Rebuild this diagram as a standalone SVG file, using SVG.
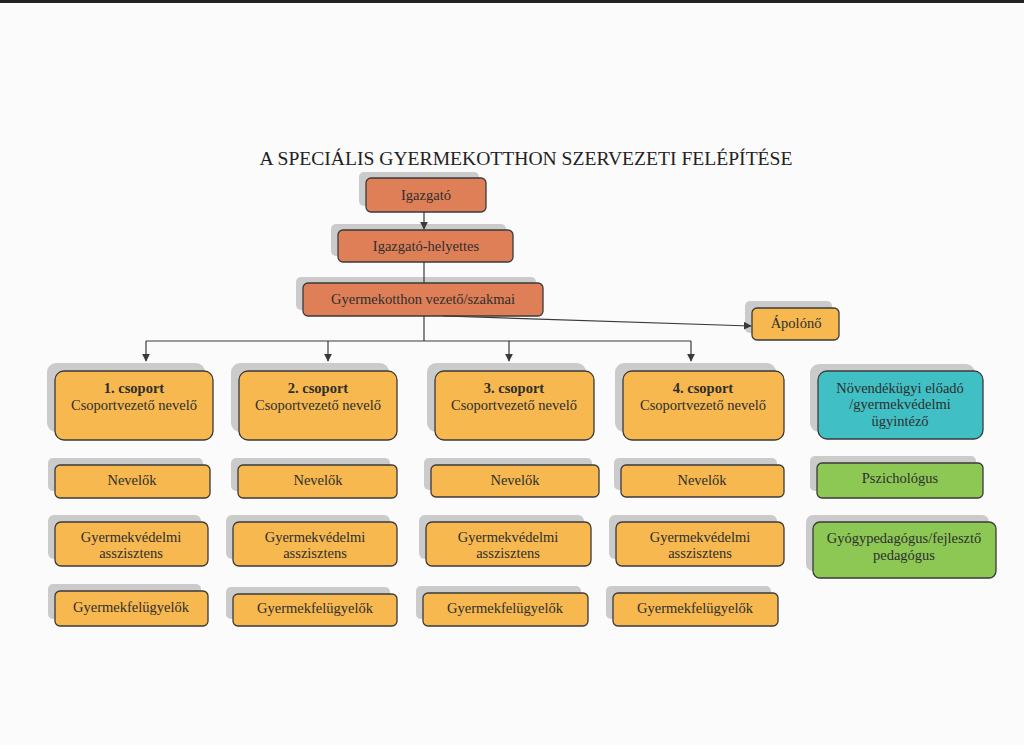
<svg xmlns="http://www.w3.org/2000/svg" width="1024" height="745" viewBox="0 0 1024 745">
<defs>
<style>
.sh{fill:#cbcbcb}
.bx{stroke:#3a3a3a;stroke-width:1.3}
.sal{fill:#df7f58}
.org{fill:#f6b84f}
.tea{fill:#40c0c4}
.grn{fill:#8dc855}
text{font-family:"Liberation Serif","Times New Roman",serif;font-size:14.5px;fill:#2e2e2e;text-anchor:middle}
.b{font-weight:bold}
.title{font-size:19.6px;fill:#222}
.ln{stroke:#3a3a3a;stroke-width:1.2;fill:none}
</style>
<marker id="ar" viewBox="0 0 10 10" refX="9" refY="5" markerWidth="8" markerHeight="8" orient="auto" markerUnits="userSpaceOnUse">
<path d="M0,0 L10,5 L0,10 z" fill="#3a3a3a"/>
</marker>
</defs>
<rect width="1024" height="745" fill="#fbfbfb"/>
<rect width="1024" height="3" fill="#222"/>
<text class="title" x="526" y="165">A SPECIÁLIS GYERMEKOTTHON SZERVEZETI FELÉPÍTÉSE</text>

<g id="igazgato">
<rect class="sh" x="359" y="172" width="120" height="34" rx="5"/>
<rect class="bx sal" x="366" y="178" width="120" height="34" rx="5"/>
<text x="426" y="200">Igazgató</text>
</g>
<g id="helyettes">
<rect class="sh" x="331" y="224" width="175" height="32" rx="5"/>
<rect class="bx sal" x="338" y="230" width="175" height="32" rx="5"/>
<text x="426" y="251">Igazgató-helyettes</text>
</g>
<g id="vezeto">
<rect class="sh" x="296" y="277" width="240" height="33" rx="5"/>
<rect class="bx sal" x="303" y="283" width="240" height="33" rx="5"/>
<text x="423" y="304">Gyermekotthon vezető/szakmai</text>
</g>
<g id="apolono">
<rect class="sh" x="745" y="301" width="87" height="32" rx="5"/>
<rect class="bx org" x="752" y="308" width="87" height="32" rx="5"/>
<text x="796" y="328">Ápolónő</text>
</g>

<g id="csoport1">
<rect class="sh" x="47" y="363" width="158" height="69" rx="9"/>
<rect class="bx org" x="55" y="371" width="158" height="69" rx="9"/>
<text x="134" y="393" class="b">1. csoport</text>
<text x="134" y="410">Csoportvezető nevelő</text>
</g>
<g id="csoport2">
<rect class="sh" x="231" y="363" width="158" height="69" rx="9"/>
<rect class="bx org" x="239" y="371" width="158" height="69" rx="9"/>
<text x="318" y="393" class="b">2. csoport</text>
<text x="318" y="410">Csoportvezető nevelő</text>
</g>
<g id="csoport3">
<rect class="sh" x="427" y="363" width="159" height="69" rx="9"/>
<rect class="bx org" x="435" y="371" width="159" height="69" rx="9"/>
<text x="514" y="393" class="b">3. csoport</text>
<text x="514" y="410">Csoportvezető nevelő</text>
</g>
<g id="csoport4">
<rect class="sh" x="615" y="363" width="161" height="69" rx="9"/>
<rect class="bx org" x="623" y="371" width="161" height="69" rx="9"/>
<text x="703" y="393" class="b">4. csoport</text>
<text x="703" y="410">Csoportvezető nevelő</text>
</g>
<g id="novendekugyi">
<rect class="sh" x="810" y="364" width="165" height="68" rx="9"/>
<rect class="bx tea" x="818" y="371" width="165" height="68" rx="9"/>
<text x="900" y="393">Növendékügyi előadó</text>
<text x="900" y="409">/gyermekvédelmi</text>
<text x="900" y="426">ügyintéző</text>
</g>

<g id="nevelok1">
<rect class="sh" x="48" y="458" width="155" height="33" rx="5"/>
<rect class="bx org" x="55" y="465" width="155" height="33" rx="5"/>
<text x="132" y="485">Nevelők</text>
</g>
<g id="nevelok2">
<rect class="sh" x="231" y="458" width="159" height="33" rx="5"/>
<rect class="bx org" x="238" y="465" width="159" height="33" rx="5"/>
<text x="318" y="485">Nevelők</text>
</g>
<g id="nevelok3">
<rect class="sh" x="424" y="458" width="168" height="32" rx="5"/>
<rect class="bx org" x="431" y="465" width="168" height="32" rx="5"/>
<text x="515" y="485">Nevelők</text>
</g>
<g id="nevelok4">
<rect class="sh" x="614" y="458" width="163" height="32" rx="5"/>
<rect class="bx org" x="621" y="465" width="163" height="32" rx="5"/>
<text x="702" y="485">Nevelők</text>
</g>
<g id="pszichologus">
<rect class="sh" x="810" y="456" width="166" height="35" rx="5"/>
<rect class="bx grn" x="817" y="463" width="166" height="35" rx="5"/>
<text x="900" y="483">Pszichológus</text>
</g>

<g id="gyv1">
<rect class="sh" x="48" y="515" width="153" height="44" rx="6"/>
<rect class="bx org" x="55" y="522" width="153" height="44" rx="6"/>
<text x="131" y="542">Gyermekvédelmi</text>
<text x="131" y="558">asszisztens</text>
</g>
<g id="gyv2">
<rect class="sh" x="226" y="515" width="164" height="44" rx="6"/>
<rect class="bx org" x="233" y="522" width="164" height="44" rx="6"/>
<text x="315" y="542">Gyermekvédelmi</text>
<text x="315" y="558">asszisztens</text>
</g>
<g id="gyv3">
<rect class="sh" x="419" y="515" width="165" height="44" rx="6"/>
<rect class="bx org" x="426" y="522" width="165" height="44" rx="6"/>
<text x="508" y="542">Gyermekvédelmi</text>
<text x="508" y="558">asszisztens</text>
</g>
<g id="gyv4">
<rect class="sh" x="609" y="515" width="168" height="44" rx="6"/>
<rect class="bx org" x="616" y="522" width="168" height="44" rx="6"/>
<text x="700" y="542">Gyermekvédelmi</text>
<text x="700" y="558">asszisztens</text>
</g>
<g id="gyogypedagogus">
<rect class="sh" x="806" y="515" width="183" height="56" rx="7"/>
<rect class="bx grn" x="813" y="522" width="183" height="56" rx="7"/>
<text x="904" y="543">Gyógypedagógus/fejlesztő</text>
<text x="904" y="560">pedagógus</text>
</g>

<g id="gyf1">
<rect class="sh" x="48" y="584" width="153" height="35" rx="5"/>
<rect class="bx org" x="55" y="591" width="153" height="35" rx="5"/>
<text x="131" y="612">Gyermekfelügyelők</text>
</g>
<g id="gyf2">
<rect class="sh" x="226" y="587" width="164" height="32" rx="5"/>
<rect class="bx org" x="233" y="594" width="164" height="32" rx="5"/>
<text x="315" y="613">Gyermekfelügyelők</text>
</g>
<g id="gyf3">
<rect class="sh" x="416" y="586" width="165" height="33" rx="5"/>
<rect class="bx org" x="423" y="593" width="165" height="33" rx="5"/>
<text x="505" y="613">Gyermekfelügyelők</text>
</g>
<g id="gyf4">
<rect class="sh" x="606" y="586" width="165" height="33" rx="5"/>
<rect class="bx org" x="613" y="593" width="165" height="33" rx="5"/>
<text x="695" y="613">Gyermekfelügyelők</text>
</g>

<g id="connectors">
<line class="ln" x1="424" y1="212" x2="424" y2="229" marker-end="url(#ar)"/>
<line class="ln" x1="424" y1="262" x2="424" y2="283"/>
<line class="ln" x1="424" y1="316" x2="424" y2="341"/>
<line class="ln" x1="146" y1="341" x2="691" y2="341"/>
<line class="ln" x1="146" y1="341" x2="146" y2="361" marker-end="url(#ar)"/>
<line class="ln" x1="328" y1="341" x2="328" y2="361" marker-end="url(#ar)"/>
<line class="ln" x1="509" y1="341" x2="509" y2="361" marker-end="url(#ar)"/>
<line class="ln" x1="691" y1="341" x2="691" y2="361" marker-end="url(#ar)"/>
<line class="ln" x1="443" y1="316" x2="751" y2="326" marker-end="url(#ar)"/>
</g>
</svg>
